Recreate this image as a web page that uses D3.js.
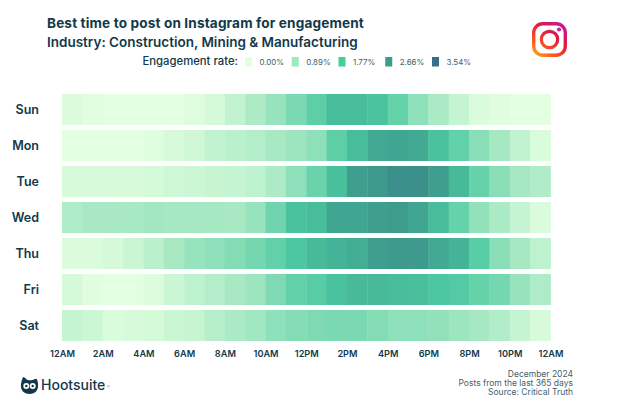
<!DOCTYPE html>
<html><head><meta charset="utf-8">
<script src="https://cdn.jsdelivr.net/npm/d3@7"></script>
<style>html,body{margin:0;padding:0;background:#fff}svg{display:block}text{font-family:Inter,"Open Sans",sans-serif}</style>
</head><body><svg id="c" width="620" height="413"></svg>
<script>
const days=["Sun","Mon","Tue","Wed","Thu","Fri","Sat"];
const hourTicks=["12AM","2AM","4AM","6AM","8AM","10AM","12PM","2PM","4PM","6PM","8PM","10PM","12AM"];
const legendValues=[0,0.89,1.77,2.66,3.54];
const legendColors=["#e2ffdf","#9cebbe","#44d09b","#3e9c8d","#35708a"];
const cellColors=["#e2ffdf","#a2e7c1","#4cc8a0","#3e9c8d","#35708a"];
const sun=[.1,.02,0,0,0,0,.06,.2,.45,.75,1.0,1.3,1.6,2.0,2.0,1.85,1.5,1.1,.78,.4,.1,.03,0,0];
const mon=[0,0,0,0,.05,.15,.25,.45,.55,.65,.8,.95,1.1,1.6,2.0,2.4,2.45,2.4,1.9,1.55,1.15,.85,.45,.12];
const tue=[.15,.15,.15,.15,.18,.28,.3,.38,.42,.5,.75,1.1,1.45,1.95,2.6,2.7,2.9,2.9,2.6,2.05,1.5,1.15,.85,.7];
const wed=[.72,.8,.8,.82,.88,.85,.85,.85,.8,1.0,1.4,1.9,2.0,2.45,2.45,2.6,2.65,2.45,2.0,1.5,1.05,.78,.4,.1];
const thu=[.1,.1,.17,.33,.55,.8,1.0,1.1,1.2,1.35,1.55,1.8,2.05,2.2,2.3,2.6,2.7,2.7,2.4,2.2,1.65,1.15,.85,.5];
const fri=[.2,.03,0,0,.08,.32,.5,.65,.8,.95,1.25,1.55,1.65,1.9,2.05,2.05,2.0,1.95,1.8,1.7,1.5,1.35,1.0,.72];
const sat=[.42,.3,.12,.15,.2,.33,.38,.58,.78,.9,1.1,1.2,1.25,1.3,1.3,1.2,1.1,1.1,1.05,.95,.85,.68,.4,.15];
const rows=[sun,mon,tue,wed,thu,fri,sat];
const ink="#12394a";
const svg=d3.select("#c");
const hours=d3.range(24);
const x=d3.scaleBand().domain(hours).range([62,550.5]);
const y=d3.scaleBand().domain(days).range([94,341]).paddingInner(5/36);
const color=d3.scaleLinear().domain(legendValues).range(cellColors);
const legendColor=d3.scaleOrdinal().domain(legendValues).range(legendColors);
days.forEach((d,i)=>{
  svg.append("g").selectAll("rect").data(rows[i]).join("rect")
    .attr("x",(v,h)=>x(h)).attr("y",y(d)).attr("width",x.bandwidth()+.4).attr("height",y.bandwidth())
    .attr("fill",v=>color(v));
});
const yAxis=d3.axisLeft(y).tickSize(0).tickPadding(0);
svg.append("g").attr("transform","translate(39,0)").call(yAxis).call(g=>{
  g.select(".domain").remove();
  g.selectAll("text").attr("fill",ink).attr("font-size",12.5).attr("font-weight",600).attr("text-anchor","end");
});
const tickScale=d3.scalePoint().domain(d3.range(13)).range([62,550.5]);
svg.append("g").attr("transform","translate(0,350)").call(d3.axisBottom(tickScale).tickSize(0).tickPadding(0).tickFormat(i=>hourTicks[i])).call(g=>{
  g.select(".domain").remove();
  g.selectAll("text").attr("fill",ink).attr("font-size",9.2).attr("font-weight",600).attr("dy","0.71em");
});
svg.append("text").attr("x",47).attr("y",28).attr("fill",ink).attr("font-size",13.6).attr("font-weight",700).attr("letter-spacing",.14).text("Best time to post on Instagram for engagement");
svg.append("text").attr("x",47).attr("y",47).attr("fill",ink).attr("font-size",13.5).attr("font-weight",600).text("Industry: Construction, Mining & Manufacturing");
svg.append("text").attr("x",238).attr("y",65).attr("text-anchor","end").attr("fill",ink).attr("font-size",11.3).attr("font-weight",500).text("Engagement rate:");
const legX=d3.scalePoint().domain(legendValues).range([245,432]);
const leg=svg.append("g").selectAll("g").data(legendValues).join("g").attr("transform",d=>`translate(${legX(d)},57)`);
leg.append("rect").attr("width",7).attr("height",9.5).attr("fill",d=>legendColor(d));
leg.append("text").attr("x",14.5).attr("y",8.2).attr("font-size",7.9).attr("fill","#44606e").text(d=>d.toFixed(2)+"%");
// Instagram icon
const defs=svg.append("defs");
const grad=defs.append("linearGradient").attr("id","ig").attr("gradientUnits","userSpaceOnUse").attr("x1",-15).attr("y1",19).attr("x2",15).attr("y2",-19);
[[0,"#fdb32b"],[.3,"#f9541f"],[.6,"#e6163f"],[1,"#b41fb0"]].forEach(s=>grad.append("stop").attr("offset",s[0]).attr("stop-color",s[1]));
const ig=svg.append("g").attr("transform","translate(549.5,39.5)");
ig.append("rect").attr("x",-15.8).attr("y",-15.8).attr("width",31.6).attr("height",31.6).attr("rx",9).attr("fill","none").attr("stroke","url(#ig)").attr("stroke-width",3.4);
ig.append("circle").attr("r",8.2).attr("fill","none").attr("stroke","url(#ig)").attr("stroke-width",3.2);
ig.append("circle").attr("cx",9.5).attr("cy",-10).attr("r",2.1).attr("fill","#c9259a");
// Hootsuite logo
const owl=svg.append("g").attr("transform","translate(29.5,386)");
owl.append("path").attr("d",d3.line().curve(d3.curveCatmullRomClosed)([[-6,-9],[-2,-6],[3,-6],[7,-7],[8.5,1],[6,6],[0,8],[-6,6],[-8.5,1]])).attr("fill",ink);
owl.append("circle").attr("cx",-3.2).attr("cy",0).attr("r",3).attr("fill","#fff");
owl.append("circle").attr("cx",3.2).attr("cy",0).attr("r",3).attr("fill","#fff");
owl.append("circle").attr("cx",-3.2).attr("cy",0).attr("r",1.2).attr("fill",ink);
owl.append("circle").attr("cx",3.2).attr("cy",0).attr("r",1.2).attr("fill",ink);
svg.append("text").attr("x",41).attr("y",390).attr("fill",ink).attr("font-size",14).attr("font-weight",500).text("Hootsuite");
svg.append("text").attr("x",107).attr("y",388).attr("fill","#8a9aa3").attr("font-size",4).text("®");
[["December 2024",377],["Posts from the last 365 days",386],["Source: Critical Truth",394.5]].forEach(t=>
  svg.append("text").attr("x",573).attr("y",t[1]).attr("text-anchor","end").attr("font-size",8.5).attr("fill","#44606e").text(t[0]));
</script></body></html>
